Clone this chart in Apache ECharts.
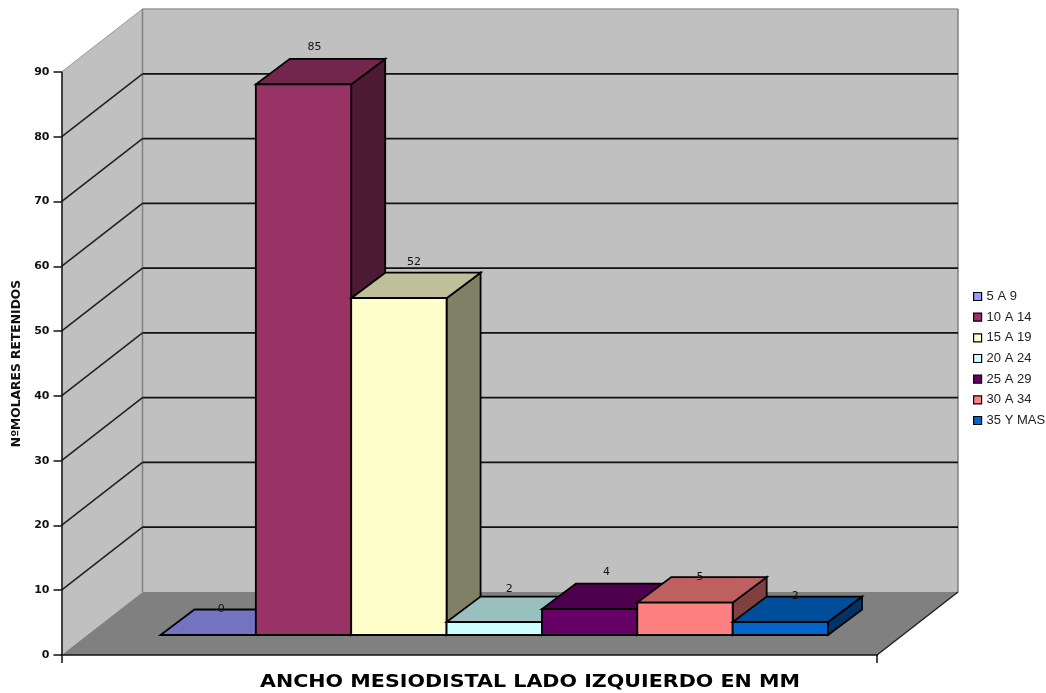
<!DOCTYPE html>
<html>
<head>
<meta charset="utf-8">
<style>html,body{margin:0;padding:0;background:#fff}#c{width:1046px;height:693px;filter:blur(0.45px)}</style>
<script src="https://cdn.jsdelivr.net/npm/echarts@6/dist/echarts.min.js"></script>
</head>
<body>
<div id="c"></div>
<script>
const category = ['Ancho'];
const seriesNames = ['5 A 9','10 A 14','15 A 19','20 A 24','25 A 29','30 A 34','35 Y MAS'];
const seriesValues = [0,85,52,2,4,5,2];
const palette = ['#9999FF','#993366','#FFFFCC','#CCFFFF','#660066','#FF8080','#0066CC'];
const gridValues = [10,20,30,40,50,60,70,80];
const xTitle = 'ANCHO MESIODISTAL LADO IZQUIERDO EN MM';
const yTitle = 'NºMOLARES RETENIDOS';

const WALL = {dx:81, dy:-63};
const FLOOR = {dx:25, dy:-20};
const BAR = {dx:34, dy:-25.5};
const labelLift = [0,12,10.5,7,11,0,0];
const labelShift = [13,11,15,15,17,15,15];

function shade(hex,f){
  const n=parseInt(hex.slice(1),16);
  const c=[(n>>16)&255,(n>>8)&255,n&255].map(v=>Math.round(v*f));
  return 'rgb('+c.join(',')+')';
}
function poly(points,fill,stroke,lw){
  return {type:'polygon',shape:{points},style:{fill,stroke:stroke||'none',lineWidth:lw||0,lineJoin:'miter'}};
}
function seg(x1,y1,x2,y2,stroke,lw){
  return {type:'line',shape:{x1,y1,x2,y2},style:{stroke,lineWidth:lw,fill:'none'}};
}
function renderWalls(params,api){
  const x0=api.coord([category[0],0]);
  const size=api.size([1,0]);
  const L=x0[0]-size[0]/2, R=x0[0]+size[0]/2, B=x0[1], T=api.coord([category[0],90])[1];
  const dx=WALL.dx, dy=WALL.dy;
  const kids=[
    poly([[L,T],[L+dx,T+dy],[L+dx,B+dy],[L,B]],'#C0C0C0'),
    poly([[L+dx,T+dy],[R+dx,T+dy],[R+dx,B+dy],[L+dx,B+dy]],'#C0C0C0'),
    poly([[L,B],[R,B],[R+dx,B+dy],[L+dx,B+dy]],'#808080'),
    seg(L,T,L+dx,T+dy,'#9a9a9a',1),
    seg(L+dx,T+dy,R+dx,T+dy,'#9a9a9a',1.5),
    seg(L+dx,T+dy,L+dx,B+dy,'#808080',1.5),
    seg(R+dx,T+dy,R+dx,B+dy,'#808080',1.5),
    seg(R,B,R+dx,B+dy,'#222',1.5)
  ];
  gridValues.forEach(v=>{
    const y=api.coord([category[0],v])[1];
    kids.push(seg(L,y,L+dx,y+dy,'#222',1.6));
    kids.push(seg(L+dx,y+dy,R+dx,y+dy,'#111',1.8));
  });
  return {type:'group',children:kids};
}
function makeBarRenderer(i){
  return function(params,api){
    const v=api.value(1);
    const top=api.coord([category[0],v]);
    const base=api.coord([category[0],0]);
    const band=api.size([1,0])[0];
    const w=band*0.8186/seriesNames.length;
    const xl=top[0]-w*seriesNames.length/2+i*w+FLOOR.dx;
    const xr=xl+w;
    const yb=base[1]+FLOOR.dy;
    const yt=top[1]+FLOOR.dy;
    const dx=BAR.dx, dy=BAR.dy;
    const c=palette[i];
    const s='#000', lw=1.8;
    return {type:'group',children:[
      poly([[xr,yb],[xr+dx,yb+dy],[xr+dx,yt+dy],[xr,yt]],shade(c,0.5),s,lw),
      poly([[xl,yt],[xr,yt],[xr+dx,yt+dy],[xl+dx,yt+dy]],shade(c,0.75),s,lw),
      poly([[xl,yb],[xr,yb],[xr,yt],[xl,yt]],c,s,lw),
      {type:'text',style:{
        text:String(v),x:xl+w/2+labelShift[i],y:yt+dy-labelLift[i],
        align:'center',verticalAlign:'middle',
        font:'11px "DejaVu Sans"',fill:'#111'}}
    ]};
  };
}
const series=[{
  type:'custom',name:'walls',z:1,clip:false,silent:true,
  renderItem:renderWalls,
  data:[[category[0],0]],encode:{x:0,y:1}
}];
seriesNames.forEach((name,i)=>{
  series.push({
    type:'custom',name,z:2+i,clip:false,
    itemStyle:{color:palette[i]},
    renderItem:makeBarRenderer(i),
    data:[[category[0],seriesValues[i]]],encode:{x:0,y:1}
  });
});
const chart=echarts.init(document.getElementById('c'),null,{renderer:'canvas'});
chart.setOption({
  animation:false,
  backgroundColor:'#fff',
  color:palette,
  grid:{left:61.5,top:72,width:815.5,height:583,containLabel:false},
  graphic:[{
    type:'text',x:530,y:682,scaleX:1.145,silent:true,
    style:{text:xTitle,align:'center',verticalAlign:'middle',
      font:'bold 18px "DejaVu Sans"',fill:'#000'}
  }],
  legend:{
    data:seriesNames,orient:'vertical',left:973,top:290,
    itemWidth:8,itemHeight:8,itemGap:7.67,
    icon:'rect',padding:0,
    itemStyle:{borderColor:'#000',borderWidth:1.2},
    textStyle:{fontFamily:'"Liberation Sans"',fontSize:13,color:'#222',padding:[0,0,3,0]}
  },
  xAxis:{
    type:'category',data:category,z:10,
    axisLine:{lineStyle:{color:'#111',width:1.5}},
    axisTick:{show:true,alignWithLabel:false,length:8,lineStyle:{color:'#111',width:1.5}},
    axisLabel:{show:false},splitLine:{show:false}
  },
  yAxis:{
    type:'value',min:0,max:90,interval:10,z:10,
    name:yTitle,nameLocation:'middle',nameGap:37,nameRotate:90,
    nameTextStyle:{fontFamily:'"DejaVu Sans"',fontWeight:'bold',fontSize:12.3,color:'#111'},
    axisLine:{show:true,lineStyle:{color:'#111',width:1.5}},
    axisTick:{show:true,length:8,lineStyle:{color:'#111',width:1.5}},
    axisLabel:{margin:12,fontFamily:'"DejaVu Sans"',fontWeight:'bold',fontSize:11,color:'#111'},
    splitLine:{show:false}
  },
  series
});
</script>
</body>
</html>
